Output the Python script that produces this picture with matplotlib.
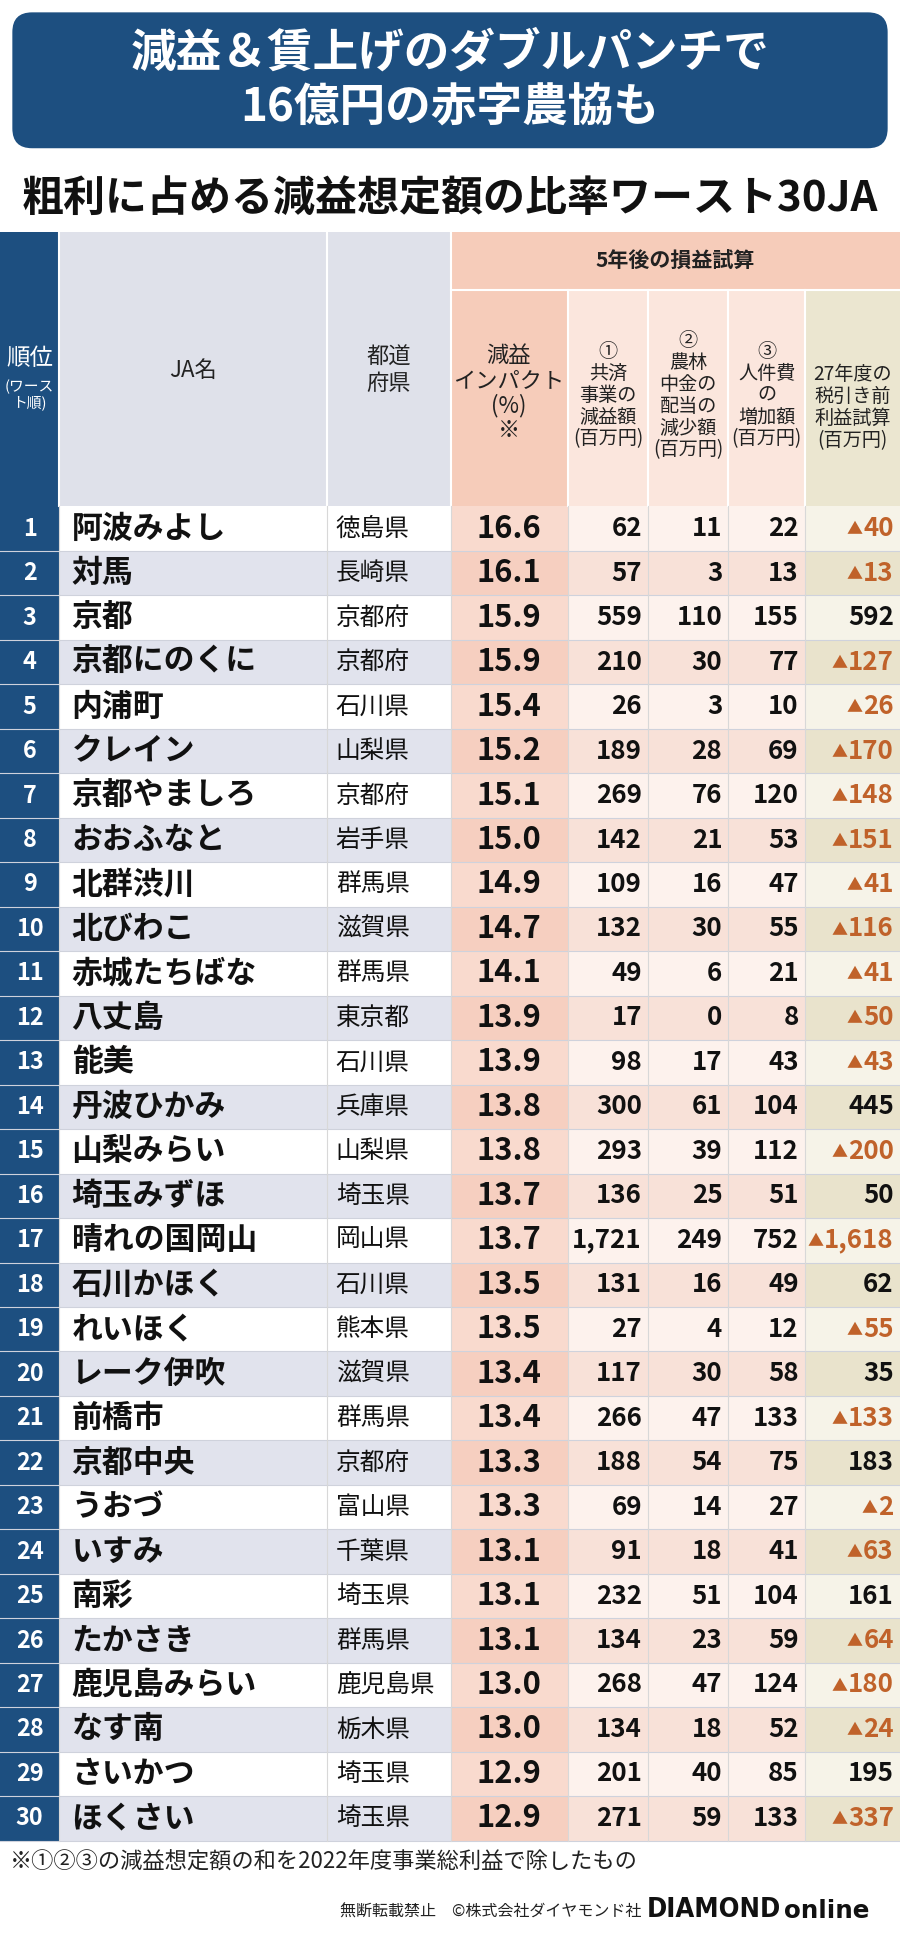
import matplotlib
matplotlib.use("Agg")
import matplotlib.pyplot as plt
from matplotlib.patches import Rectangle, FancyBboxPatch

ranks = list(range(1, 31))
names = ["阿波みよし","対馬","京都","京都にのくに","内浦町","クレイン","京都やましろ","おおふなと","北群渋川","北びわこ",
         "赤城たちばな","八丈島","能美","丹波ひかみ","山梨みらい","埼玉みずほ","晴れの国岡山","石川かほく","れいほく","レーク伊吹",
         "前橋市","京都中央","うおづ","いすみ","南彩","たかさき","鹿児島みらい","なす南","さいかつ","ほくさい"]
prefs = ["徳島県","長崎県","京都府","京都府","石川県","山梨県","京都府","岩手県","群馬県","滋賀県",
         "群馬県","東京都","石川県","兵庫県","山梨県","埼玉県","岡山県","石川県","熊本県","滋賀県",
         "群馬県","京都府","富山県","千葉県","埼玉県","群馬県","鹿児島県","栃木県","埼玉県","埼玉県"]
impact = [16.6,16.1,15.9,15.9,15.4,15.2,15.1,15.0,14.9,14.7,14.1,13.9,13.9,13.8,13.8,13.7,13.7,13.5,13.5,13.4,
          13.4,13.3,13.3,13.1,13.1,13.1,13.0,13.0,12.9,12.9]
kyosai = [62,57,559,210,26,189,269,142,109,132,49,17,98,300,293,136,1721,131,27,117,266,188,69,91,232,134,268,134,201,271]
norinchukin = [11,3,110,30,3,28,76,21,16,30,6,0,17,61,39,25,249,16,4,30,47,54,14,18,51,23,47,18,40,59]
jinkenhi = [22,13,155,77,10,69,120,53,47,55,21,8,43,104,112,51,752,49,12,58,133,75,27,41,104,59,124,52,85,133]
profit27 = [-40,-13,592,-127,-26,-170,-148,-151,-41,-116,-41,-50,-43,445,-200,50,-1618,62,-55,35,
            -133,183,-2,-63,161,-64,-180,-24,195,-337]

W, H = 729, 1568
fig = plt.figure(figsize=(9, 19.37), dpi=100)
ax = fig.add_axes([0, 0, 1, 1])
ax.set_xlim(0, W); ax.set_ylim(H, 0); ax.axis("off")
F = "Noto Sans CJK JP"
def pt(px): return px * 0.889
renderer = fig.canvas.get_renderer()
def width_units(t):
    bb = t.get_window_extent(renderer=renderer)
    return bb.width * W / 900.0

NAVY = "#1d4f80"
ax.add_patch(FancyBboxPatch((10, 10), 709, 110, boxstyle="round,pad=0,rounding_size=16", fc=NAVY, ec="none"))
ax.text(W/2, 43, "減益＆賃上げのダブルパンチで", color="white", fontsize=pt(37), fontweight="bold", family=F, ha="center", va="center")
ax.text(W/2, 88, "16億円の赤字農協も", color="white", fontsize=pt(37), fontweight="bold", family=F, ha="center", va="center")
ax.text(W/2, 161, "粗利に占める減益想定額の比率ワースト30JA", color="#111", fontsize=pt(34), fontweight="bold", family=F, ha="center", va="center")

cols = [0, 48, 265, 365, 460, 525, 590, 652, 729]
top, htop, hbot = 188, 235, 410
rh = 36
def rect(x0, y0, x1, y1, c):
    ax.add_patch(Rectangle((x0, y0), x1-x0, y1-y0, fc=c, ec="none"))

rect(0, top, 48, hbot, NAVY)
rect(48, top, 365, hbot, "#dfe1ea")
rect(365, top, 729, htop, "#f6ccba")
rect(365, htop, 460, hbot, "#f6ccba")
rect(460, htop, 652, hbot, "#fbe6dd")
rect(652, htop, 729, hbot, "#ebe6d0")
for x in cols[1:-1]:
    y0 = htop if x > 365 else top
    ax.plot([x, x], [y0, hbot], color="white", lw=1.5)
ax.plot([365, 729], [htop, htop], color="white", lw=1.5)
hs = pt(18)
ax.text(24, 290, "順位", color="white", fontsize=pt(19), family=F, ha="center", va="center")
ax.text(24, 320, "(ワース\nト順)", color="white", fontsize=pt(12), family=F, ha="center", va="center", linespacing=1.1)
ax.text(156, 300, "JA名", fontsize=hs, family=F, ha="center", va="center", color="#222")
ax.text(315, 300, "都道\n府県", fontsize=hs, family=F, ha="center", va="center", color="#222", linespacing=1.2)
ax.text(547, 212, "5年後の損益試算", fontsize=pt(17), fontweight="bold", family=F, ha="center", va="center", color="#222")
ax.text(412, 318, "減益\nインパクト\n(%)\n※", fontsize=hs, family=F, ha="center", va="center", color="#222", linespacing=1.1)
hdr = ["①\n共済\n事業の\n減益額\n(百万円)", "②\n農林\n中金の\n配当の\n減少額\n(百万円)",
       "③\n人件費\nの\n増加額\n(百万円)", "27年度の\n税引き前\n利益試算\n(百万円)"]
hy = [320, 320, 320, 330]
for i, t in enumerate(hdr):
    ax.text((cols[4+i]+cols[5+i])/2, hy[i], t, fontsize=pt(15.5), family=F, ha="center", va="center", color="#222", linespacing=1.05)

for i in range(30):
    y0 = hbot + i*rh; y1 = y0 + rh; yc = (y0+y1)/2
    even = i % 2 == 1
    rect(0, y0, 48, y1, NAVY)
    rect(48, y0, 365, y1, "#e1e3ed" if even else "white")
    rect(365, y0, 460, y1, "#f6cfc0" if even else "#f9dace")
    rect(460, y0, 652, y1, "#f8e1d8" if even else "#fdf2ed")
    rect(652, y0, 729, y1, "#e9e3cc" if even else "#f6f3e8")
    ax.plot([0, 729], [y1, y1], color="#cfd2dc", lw=0.8)
    for x in cols[1:-1]:
        ax.plot([x, x], [y0, y1], color="#d8d8d8", lw=0.8)
    ax.text(24, yc, str(ranks[i]), color="white", fontsize=pt(19), fontweight="bold", family=F, ha="center", va="center")
    ax.text(58, yc, names[i], fontsize=pt(25), fontweight="bold", family=F, ha="left", va="center", color="#111")
    ax.text(272, yc, prefs[i], fontsize=pt(20), family=F, ha="left", va="center", color="#111")
    ax.text(412, yc, f"{impact[i]:.1f}", fontsize=pt(25), fontweight="bold", family=F, ha="center", va="center", color="#111")
    for j, arr in enumerate([kyosai, norinchukin, jinkenhi]):
        ax.text(cols[5+j]-5, yc, f"{arr[i]:,}", fontsize=pt(21), fontweight="bold", family=F, ha="right", va="center", color="#111")
    v = profit27[i]
    if v < 0:
        num = ax.text(724, yc, f"{-v:,}", fontsize=pt(21), fontweight="bold", family=F, ha="right", va="center", color="#c0622a")
        w = width_units(num)
        ax.text(724 - w - 0.5, yc + 1, "▲", fontsize=pt(13), family=F, ha="right", va="center", color="#c0622a")
    else:
        ax.text(724, yc, f"{v:,}", fontsize=pt(21), fontweight="bold", family=F, ha="right", va="center", color="#111")

ax.text(8, 1507, "※①②③の減益想定額の和を2022年度事業総利益で除したもの", fontsize=pt(18), family=F, ha="left", va="center", color="#222")
ax.text(275, 1548, "無断転載禁止　©株式会社ダイヤモンド社", fontsize=pt(13), family=F, ha="left", va="center", color="#222")
d = ax.text(524, 1546, "DIAMOND", fontsize=pt(22), fontweight="bold", family="DejaVu Sans", ha="left", va="center", color="#111", stretch="condensed")
dw = width_units(d)
ax.text(524 + dw + 2, 1547, "online", fontsize=pt(20), fontweight="bold", family="DejaVu Sans", ha="left", va="center", color="#111")

fig.savefig("out.png", dpi=100)
